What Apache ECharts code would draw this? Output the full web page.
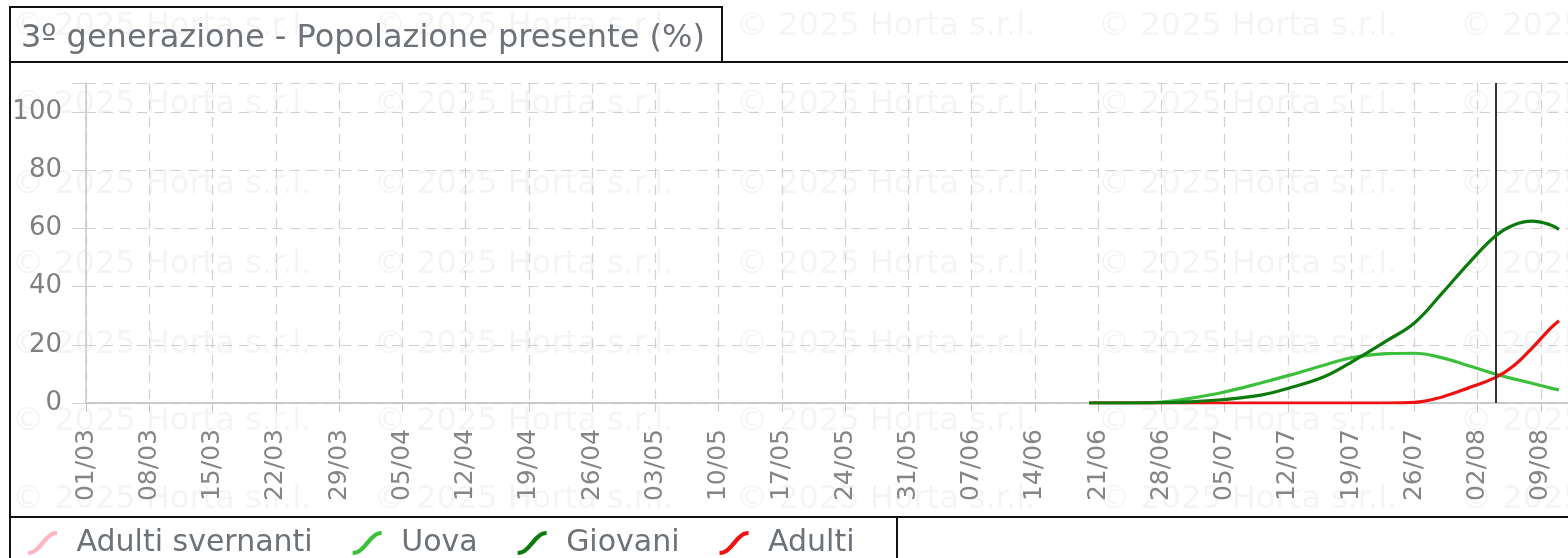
<!DOCTYPE html>
<html>
<head>
<meta charset="utf-8">
<script src="https://cdn.jsdelivr.net/npm/echarts@6/dist/echarts.min.js"></script>
<style>
html,body{margin:0;padding:0;background:#fff;}
#chart{width:1568px;height:558px;}
</style>
</head>
<body>
<div id="chart"></div>
<script>
// ---- data ----
var titleText = '3º generazione - Popolazione presente (%)';
var tickLabels = ['01/03','08/03','15/03','22/03','29/03','05/04','12/04','19/04','26/04','03/05','10/05','17/05','24/05','31/05','07/06','14/06','21/06','28/06','05/07','12/07','19/07','26/07','02/08','09/08'];
var seriesNames = ['Adulti svernanti','Uova','Giovani','Adulti'];
var pointDates = ['20/06','24/06','28/06','01/07','05/07','09/07','12/07','16/07','19/07','23/07','26/07','29/07','01/08','04/08','06/08','08/08','10/08','11/08'];
var adultiSvernanti = [];
var uova    = [0, 0, 0.3, 1.5, 3.8, 6.9, 9.4, 13, 15.5, 17.0, 17.1, 15.6, 12.8, 9.9, 8.3, 6.8, 5.2, 4.5];
var giovani = [0, 0, 0.1, 0.4, 1.2, 2.7, 5, 9, 14, 21.5, 27.5, 37.5, 48, 57.5, 61.2, 62.5, 61.3, 59.7];
var adulti  = [0, 0, 0, 0, 0, 0, 0, 0, 0, 0, 0.2, 2, 5.2, 8.8, 12.8, 18.8, 25.5, 28.3];
var todayDate = '04/08';
var watermark = '© 2025 Horta s.r.l.';

// ---- helpers ----
var monthStart = {3:0, 4:31, 5:61, 6:92, 7:122, 8:153, 9:184};
function dayIndex(s){ var p = s.split('/'); return monthStart[parseInt(p[1],10)] + parseInt(p[0],10) - 1; }
function pairs(vals){ return vals.map(function(v,i){ return [dayIndex(pointDates[i]), v]; }); }

var colors = ['#ffb6c1', '#3cc03c', '#0c7a0c', '#ee1111'];
var iconPath = 'path://M0,20 C11,20 15.5,0 29,0 L29,4 C18.5,4 14,24 0,24 Z';

var wm = [];
var wmRows = [27, 105, 185, 265, 345, 422, 500];
var wmCols = [12, 374, 736, 1098, 1460];
wmRows.forEach(function(y){ wmCols.forEach(function(x){
  wm.push({type:'text', left:x, top:y-16, z:-10, silent:true,
    style:{text:watermark, fill:'rgba(0,0,0,0.045)', font:'32px "DejaVu Sans"'}});
});});

var chart = echarts.init(document.getElementById('chart'), null, {renderer:'canvas'});
var lineCommon = {type:'line', smooth:0.4, showSymbol:false, symbol:'none'};
chart.setOption({
  animation:false,
  backgroundColor:'#fff',
  color: colors,
  title:{ text:titleText, left:21, top:23, padding:0,
    textStyle:{fontFamily:'DejaVu Sans', fontSize:32, fontWeight:'normal', color:'#6d7278'} },
  graphic: wm.concat([
    {type:'rect', shape:{x:10,y:7,width:712,height:55}, z:100, silent:true, style:{fill:'none', stroke:'#111', lineWidth:2}},
    {type:'rect', shape:{x:10,y:62,width:1600,height:455}, z:100, silent:true, style:{fill:'none', stroke:'#111', lineWidth:2}},
    {type:'rect', shape:{x:10,y:517,width:887,height:60}, z:100, silent:true, style:{fill:'none', stroke:'#111', lineWidth:2}}
  ]),
  legend:{ left:28, top:528, padding:0, itemWidth:30, itemHeight:24, itemGap:40,
    icon: iconPath, data: seriesNames, selectedMode:false,
    textStyle:{fontFamily:'DejaVu Sans', fontSize:30, color:'#6d7278', padding:[0,0,0,14]} },
  grid:{ left:86, right:0, top:83, bottom:155 },
  xAxis:{ type:'value', min:0, max:164, interval:7,
    axisLine:{show:true, onZero:false, lineStyle:{color:'#bdbdbd', width:1.5}},
    axisTick:{show:true, length:9, lineStyle:{color:'#c8c8c8'}},
    axisLabel:{ rotate:90, margin:26, fontFamily:'DejaVu Sans', fontSize:25, color:'#858585',
      formatter:function(v){ if (v % 7 !== 0) return ''; var i = v/7; return tickLabels[i] || ''; } },
    splitLine:{show:true, lineStyle:{color:'#d0d0d0', type:[10,7], width:1.2}} },
  yAxis:{ type:'value', min:0, max:110, interval:20,
    axisLine:{show:true, lineStyle:{color:'#c8c8c8', width:1.5}},
    axisTick:{show:true, length:14, lineStyle:{color:'#d0d0d0'}},
    axisLabel:{ margin:24, fontFamily:'DejaVu Sans', fontSize:26, color:'#7f7f7f',
      formatter:function(v){ return v > 100 ? '' : String(v); } },
    splitLine:{show:true, lineStyle:{color:'#d0d0d0', type:[10,7], width:1.2}} },
  series:[
    Object.assign({}, lineCommon, {name:seriesNames[0], data:adultiSvernanti, z:2, lineStyle:{width:3, color:colors[0]}, itemStyle:{color:colors[0]}}),
    Object.assign({}, lineCommon, {name:seriesNames[1], data:pairs(uova), z:3, lineStyle:{width:3.2, color:colors[1]}, itemStyle:{color:colors[1]}}),
    Object.assign({}, lineCommon, {name:seriesNames[2], data:pairs(giovani), z:5, lineStyle:{width:3.2, color:colors[2]}, itemStyle:{color:colors[2]},
      markLine:{silent:true, symbol:['none','none'], label:{show:false}, animation:false,
        lineStyle:{color:'#333', width:2, type:'solid'}, data:[{xAxis:dayIndex(todayDate)}]}}),
    Object.assign({}, lineCommon, {name:seriesNames[3], data:pairs(adulti), z:4, lineStyle:{width:3.2, color:colors[3]}, itemStyle:{color:colors[3]}})
  ]
});
</script>
</body>
</html>
